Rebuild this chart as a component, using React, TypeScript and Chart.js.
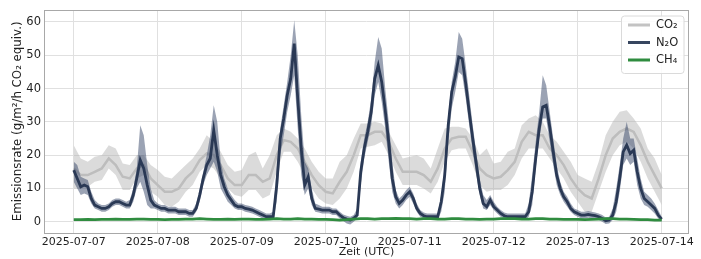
import React, { useEffect, useRef } from 'react';
import { Chart, registerables } from 'chart.js';

Chart.register(...registerables);

// sampling times in hours since 2025-07-07 00:00 UTC
const HOURS_1H = Array.from({ length: 169 }, (_, i) => i);
const HOURS_2H = Array.from({ length: 85 }, (_, i) => i * 2);

const DAY_LABELS = ['2025-07-07', '2025-07-08', '2025-07-09', '2025-07-10', '2025-07-11', '2025-07-12', '2025-07-13', '2025-07-14'];
const Y_TICKS = [0, 10, 20, 30, 40, 50, 60];

// N2O smoothed line (hourly)
const N2O = [
  15.5, 13, 10.5, 11, 10.5, 7, 5, 4.5, 4, 4, 4.5, 5.5, 6, 6, 5.5, 5, 5, 8, 13, 18.5, 16, 11, 6.5, 5,
  4.5, 4, 4, 3.5, 3.5, 3.5, 3, 3, 3, 2.5, 2.5, 4, 8, 13, 17, 19, 27.5, 20, 14, 10.5, 8, 6.5, 5, 4.5,
  4.5, 4, 3.8, 3.5, 3, 2.5, 2, 1.5, 1.5, 1.5, 11, 25, 31, 38, 43, 53.5, 37, 22, 11, 13.5, 7, 4, 3.8, 3.5,
  3.5, 3.5, 3, 3, 2, 1.2, 0.8, 0.5, 1, 2, 15, 22, 27, 33, 43, 47, 42, 33.5, 24, 13, 7.5, 5.5, 6.5, 8,
  9, 7, 4, 2.5, 1.8, 1.5, 1.5, 1.5, 1.5, 6, 14, 29, 39, 43.5, 49.5, 49, 41.5, 33, 25, 17.5, 10, 5.5, 4.5, 6.5,
  4.5, 3.5, 2.5, 1.8, 1.5, 1.5, 1.5, 1.5, 1.5, 1.5, 3, 9, 19, 28, 34.5, 35, 28.5, 21, 14, 10, 7.5, 6, 4, 3,
  2.5, 2, 2, 2.2, 2, 1.8, 1.5, 1, 0.3, 0.5, 2, 6, 13, 21, 23, 20.5, 21.5, 15, 10, 7, 6, 5, 4, 2,
  0.8,
];
// N2O raw measurement spread: upper / lower envelope (hourly)
const N2O_HI = [
  18, 17, 13.5, 13, 12.5, 9, 6.5, 5.5, 5, 5, 5.5, 6.5, 7, 7, 6.5, 6, 6.5, 10, 16, 29, 26, 17, 10, 6.5,
  5.5, 5, 5, 4.5, 4.5, 4.5, 4, 4, 4, 3.5, 3.5, 5.5, 10, 15, 20, 26, 35, 30, 18, 13, 10, 8, 6.5, 5.5,
  5.5, 5, 4.8, 4.5, 4, 3.5, 3, 2.5, 2.5, 3, 16, 28, 35, 42, 50, 60.5, 50, 32, 18, 16, 10, 5.5, 5, 4.5,
  4.5, 4.5, 4, 4, 3, 2.2, 1.8, 1.5, 2, 4, 18, 25, 30, 37, 48, 55.5, 52, 40, 30, 18, 9.5, 7, 8, 9.5,
  10.5, 8.5, 5.5, 3.5, 2.8, 2.5, 2.5, 2.5, 2.5, 8, 17, 32, 42, 48, 57, 55, 47, 38, 29, 21, 13, 8, 6.5, 8,
  6, 4.5, 3.5, 2.8, 2.5, 2.5, 2.5, 2.5, 2.5, 2.5, 5.5, 14, 24, 33, 44, 41, 33, 25, 17, 12, 9, 7.5, 5.5, 4,
  3.5, 3, 3, 3.2, 3, 2.8, 2.5, 2, 1.3, 1.5, 4, 10, 17, 25, 30, 25, 25, 19, 13, 9, 8, 7, 5.5, 3.5,
  1.5,
];
const N2O_LO = [
  12, 10, 8, 8.5, 8, 5.5, 4, 3.5, 3, 3, 3.5, 4.5, 5, 5, 4.5, 4, 4, 6, 10, 12, 9, 5, 4, 4,
  3.5, 3, 3, 2.5, 2.5, 2.5, 2, 2, 2, 1.5, 1.5, 3, 6, 11, 14, 16, 18, 15, 10, 8, 6, 5, 4, 3.5,
  3.5, 3, 2.8, 2.5, 2, 1.5, 1, 0.5, 0.5, 0.5, 6, 20, 26, 33, 38, 44, 28, 14, 8, 10, 5, 3, 2.8, 2.5,
  2.5, 2.5, 2, 2, 1, 0.2, -0.5, -0.8, 0, 1, 11, 19, 24, 29, 38, 42, 36, 28, 18, 9, 5.5, 4, 5, 6.5,
  7.5, 5.5, 3, 1.5, 1, 0.5, 0.5, 0.5, 0.5, 3, 9, 24, 34, 39, 45, 44, 37, 29, 21, 14, 8, 4, 3.5, 5,
  3.5, 2.5, 1.5, 1, 0.5, 0.5, 0.5, 0.5, 0.5, 0.5, 1.5, 5, 16, 25, 31, 31, 24, 17, 11, 8, 6, 4.5, 3, 2,
  1.5, 1, 1, 1.2, 1, 0.8, 0.5, 0, -0.7, -0.5, 0.5, 3, 9, 17, 19, 17, 18, 11, 7, 5, 4.5, 3.5, 2.5, 1,
  0,
];

// CO2 smoothed line and spread (every 2 h)
const CO2 = [
  16, 14, 14, 15, 16, 19, 17, 13.5, 13, 16, 17, 13,
  11, 9, 9, 10, 13, 15, 18.5, 20.5, 20, 17, 13, 11,
  11, 14, 14, 12, 13, 20, 24.5, 24, 22, 18, 14, 11,
  9, 8.5, 12, 15, 20, 26, 26, 27, 27, 24, 19, 15,
  15, 15, 14, 12, 16, 22, 25, 25.5, 25.5, 21, 16, 14,
  13, 13.5, 15.5, 18, 24, 27, 26, 26, 22, 20, 17, 13,
  10, 8, 7, 13, 20, 25, 27, 28, 27, 23, 18, 14,
  10,
];
const CO2_HI = [
  23, 19, 18, 19.5, 20, 23, 22, 17.5, 17, 20, 20, 17,
  15.5, 13.5, 13, 15, 17, 19, 22, 26, 24, 21, 17, 15,
  15.5, 20, 21, 16, 20, 26, 28, 27, 25, 22, 18, 15,
  13, 13, 18, 20, 25, 29.5, 29.5, 30, 29.5, 27, 23, 19,
  19.5, 20, 19, 16, 22, 28, 28.5, 28.5, 28, 25, 20, 22,
  17.5, 18, 21, 22, 29, 31, 32, 30, 26, 24, 21, 18,
  14, 13, 12, 18, 26, 30, 33, 33.5, 31, 28, 22, 19,
  14,
];
const CO2_LO = [
  10, 10, 10.5, 12, 12.5, 16, 14, 9.5, 9.5, 13, 14, 9,
  7.5, 5, 4.5, 6, 9, 11, 15, 17, 16, 13, 10, 8,
  7.5, 9.5, 9.5, 7, 8, 15, 21, 21, 18, 14, 10, 7,
  5.5, 5, 7, 10, 15, 22, 22.5, 23, 24, 20, 15, 11,
  11, 11, 10, 8.5, 12, 18, 21.5, 22, 22, 17, 11, 9,
  9.5, 9.5, 11, 14, 19, 22, 22, 22, 19, 16, 13, 9,
  6, 3, 3, 9, 15, 20, 23, 24, 22, 18, 13, 9,
  5,
];

// CH4 (every 2 h)
const CH4 = [
  0.6, 0.6, 0.7, 0.6, 0.7, 0.7, 0.8, 0.7, 0.7, 0.8, 0.8, 0.7,
  0.7, 0.6, 0.7, 0.7, 0.8, 0.8, 0.9, 0.8, 0.7, 0.7, 0.8, 0.7,
  0.8, 0.8, 0.7, 0.7, 0.8, 0.9, 0.8, 0.8, 0.9, 0.8, 0.8, 0.7,
  0.7, 0.6, 0.5, 0.6, 0.8, 0.9, 0.9, 0.8, 0.9, 0.9, 1.0, 0.9,
  0.9, 0.8, 0.9, 0.9, 0.8, 0.8, 0.9, 0.9, 0.8, 0.8, 0.7, 0.8,
  0.8, 0.9, 0.9, 0.9, 0.8, 0.8, 0.9, 0.9, 0.8, 0.8, 0.7, 0.7,
  0.7, 0.6, 0.7, 0.8, 0.9, 0.9, 0.8, 0.8, 0.7, 0.6, 0.6, 0.5,
  0.5,
];

const LEGEND = [
  { label: 'CO₂', color: '#c3c3c3' },
  { label: 'N₂O', color: '#37465f' },
  { label: 'CH₄', color: '#2f8c3f' },
];

const FONT = '"DejaVu Sans", sans-serif';
const TEXT = '#1f1f1f';

function pts(xs: number[], ys: number[]) {
  return ys.map((y, i) => ({ x: xs[i], y }));
}

export default function App() {
  const ref = useRef<HTMLCanvasElement>(null);

  useEffect(() => {
    if (!ref.current) return;

    const decor = {
      id: 'decor',
      afterDraw(chart: any) {
        const { ctx, chartArea: a } = chart;
        ctx.save();
        // frame
        ctx.strokeStyle = '#a8a8a8';
        ctx.lineWidth = 1;
        ctx.strokeRect(Math.round(a.left) + 0.5, Math.round(a.top) + 0.5, Math.round(a.right - a.left) - 1, Math.round(a.bottom - a.top));
        // axis titles
        ctx.fillStyle = TEXT;
        ctx.font = `11px ${FONT}`;
        ctx.textAlign = 'center';
        ctx.textBaseline = 'middle';
        ctx.fillText('Zeit (UTC)', (a.left + a.right) / 2, 252);
        ctx.save();
        ctx.font = `11.8px ${FONT}`;
        ctx.translate(17.5, (a.top + a.bottom) / 2);
        ctx.rotate(-Math.PI / 2);
        ctx.fillText('Emissionsrate (g/m²/h CO₂ equiv.)', 0, 0);
        ctx.restore();
        // legend
        const lx = 621, ly = 15.5, lw = 62.5, lh = 57.5;
        ctx.beginPath();
        ctx.roundRect(lx + 0.5, ly + 0.5, lw, lh, 3);
        ctx.fillStyle = 'rgba(255,255,255,0.85)';
        ctx.fill();
        ctx.strokeStyle = '#dadada';
        ctx.stroke();
        ctx.font = `11.5px ${FONT}`;
        ctx.textAlign = 'left';
        LEGEND.forEach((e, i) => {
          const y = 25 + i * 17.5;
          ctx.beginPath();
          ctx.moveTo(628, y);
          ctx.lineTo(650, y);
          ctx.strokeStyle = e.color;
          ctx.lineWidth = 3;
          ctx.stroke();
          ctx.fillStyle = TEXT;
          ctx.fillText(e.label, 656, y + 0.5);
        });
        ctx.restore();
      },
    };

    const chart = new Chart(ref.current, {
      type: 'line',
      data: {
        datasets: [
          { label: 'CH4', data: pts(HOURS_2H, CH4), borderColor: '#2f8c3f', borderWidth: 2.8, pointRadius: 0, order: 0, fill: false },
          { label: 'N2O', data: pts(HOURS_1H, N2O), borderColor: '#2a3955', borderWidth: 2.8, pointRadius: 0, order: 1, fill: false },
          { label: 'N2O hi', data: pts(HOURS_1H, N2O_HI), borderColor: 'rgba(0,0,0,0)', borderWidth: 0, pointRadius: 0, order: 2, fill: { target: 3 }, backgroundColor: 'rgba(55,72,105,0.5)' },
          { label: 'N2O lo', data: pts(HOURS_1H, N2O_LO), borderColor: 'rgba(0,0,0,0)', borderWidth: 0, pointRadius: 0, order: 3, fill: false },
          { label: 'CO2', data: pts(HOURS_2H, CO2), borderColor: '#bdbdbd', borderWidth: 2.5, pointRadius: 0, order: 4, fill: false },
          { label: 'CO2 hi', data: pts(HOURS_2H, CO2_HI), borderColor: 'rgba(0,0,0,0)', borderWidth: 0, pointRadius: 0, order: 5, fill: { target: 6 }, backgroundColor: 'rgba(175,175,175,0.45)' },
          { label: 'CO2 lo', data: pts(HOURS_2H, CO2_LO), borderColor: 'rgba(0,0,0,0)', borderWidth: 0, pointRadius: 0, order: 6, fill: false },
        ],
      },
      options: {
        responsive: false,
        animation: false,
        devicePixelRatio: 1,
        layout: { padding: { left: 0, right: 12, top: 10, bottom: 0 } },
        elements: { line: { tension: 0 } },
        plugins: { legend: { display: false }, tooltip: { enabled: false } },
        scales: {
          x: {
            type: 'linear',
            min: -8.5,
            max: 175.8,
            afterBuildTicks: (s: any) => { s.ticks = DAY_LABELS.map((_, i) => ({ value: i * 24 })); },
            afterFit: (s: any) => { s.height = 26.3; },
            grid: { color: '#e0e0e0', lineWidth: 1, drawTicks: false },
            border: { display: false },
            ticks: {
              callback: (v: any) => DAY_LABELS[Math.round(Number(v) / 24)] ?? '',
              font: { family: FONT, size: 11 },
              color: TEXT,
              padding: 3,
              maxRotation: 0,
              autoSkip: false,
            },
          },
          y: {
            type: 'linear',
            min: -3.3,
            max: 63.6,
            afterBuildTicks: (s: any) => { s.ticks = Y_TICKS.map((v) => ({ value: v })); },
            afterFit: (s: any) => { s.width = 44; },
            grid: { color: '#e0e0e0', lineWidth: 1, drawTicks: false },
            border: { display: false },
            ticks: {
              callback: (v: any) => String(v),
              font: { family: FONT, size: 11.5 },
              color: TEXT,
              padding: 3,
            },
          },
        },
      },
      plugins: [decor],
    } as any);

    return () => chart.destroy();
  }, []);

  return (
    <div style={{ position: 'fixed', left: 0, top: 0, width: 701, height: 259, background: '#fff' }}>
      <canvas ref={ref} width={701} height={259} style={{ display: 'block', width: 701, height: 259 }} />
    </div>
  );
}
